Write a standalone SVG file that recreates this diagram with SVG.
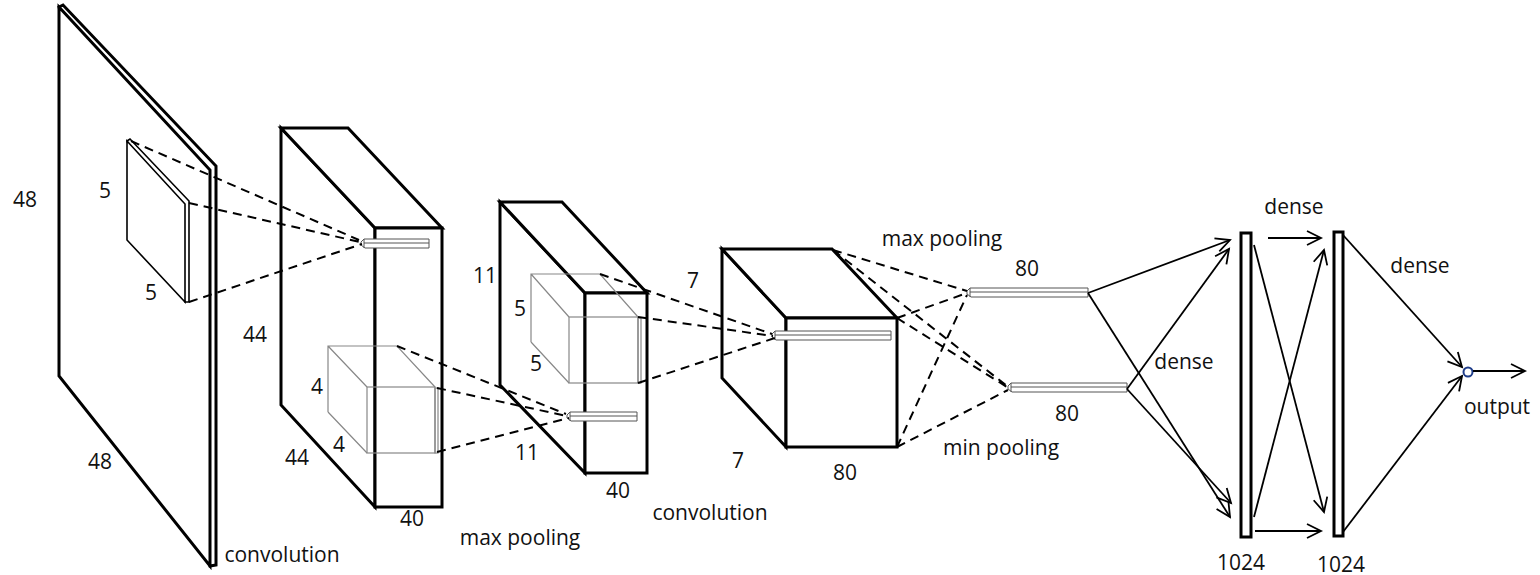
<svg xmlns="http://www.w3.org/2000/svg" width="1540" height="575" viewBox="0 0 1540 575">
<defs>
<style>
.thick{fill:#fff;stroke:#000;stroke-width:3;stroke-linejoin:miter}
.thin{fill:#fff;stroke:#000;stroke-width:1.6}
.cube{fill:none;stroke:#888;stroke-width:1.2}
.bar{fill:#fff;stroke:#555;stroke-width:1}
.dash{fill:none;stroke:#000;stroke-width:2;stroke-dasharray:9 6}
.arr{fill:none;stroke:#000;stroke-width:1.8;marker-end:url(#ah)}
.lbl{font-family:"Open Sans","Liberation Sans",Arial,sans-serif;font-size:21px;fill:#111;text-anchor:middle}
</style>
<marker id="ah" markerUnits="userSpaceOnUse" markerWidth="20" markerHeight="16" refX="15" refY="7" orient="auto" overflow="visible">
<path d="M1,0 L15,7 L1,14" fill="none" stroke="#000" stroke-width="1.8"/>
</marker>
</defs>
<rect width="1540" height="575" fill="#fff"/>

<g id="input-plane">
<path class="thick" d="M59,7 L63,5 L216,166 L216,565 L210,566 Z"/>
<path class="thick" d="M59,7 L210,170 L210,566 L59,376 Z"/>
<path class="thin" d="M127,141 L130,139 L189,201 L189,302 L185,302 Z"/>
<path class="thin" d="M127,141 L185,204 L185,302 L127,240 Z"/>
<text class="lbl" x="25" y="207">48</text>
<text class="lbl" x="100" y="469">48</text>
<text class="lbl" x="105" y="198">5</text>
<text class="lbl" x="151" y="300">5</text>
</g>

<g id="conv1">
<path class="thick" d="M281,128 L375,228 L375,507 L281,405 Z"/>
<path class="thick" d="M281,128 L348,128 L442,228 L375,228 Z"/>
<rect class="thick" x="375" y="228" width="67" height="279"/>
<path class="cube" d="M328,412 L328,346 L397,346 L435,387 M328,346 L367,387 M328,412 L367,453"/>
<rect class="cube" x="367" y="387" width="68" height="66"/>
<rect class="cube" x="435" y="388" width="3" height="65"/>
<path class="bar" d="M361,242 L364,239 L429,239 L429,248 L365,248 L361,245 Z"/>
<path class="bar" d="M364,239 L364,248 M364,243 L429,243"/>
<text class="lbl" x="255" y="342">44</text>
<text class="lbl" x="297" y="465">44</text>
<text class="lbl" x="412" y="526">40</text>
<text class="lbl" x="317" y="394">4</text>
<text class="lbl" x="339" y="452">4</text>
</g>

<g id="pool1">
<path class="thick" d="M500,202 L585,293 L585,473 L500,385 Z"/>
<path class="thick" d="M500,202 L562,202 L647,293 L585,293 Z"/>
<rect class="thick" x="585" y="293" width="62" height="180"/>
<path class="cube" d="M531,342 L531,274 L600,274 L638,317 M531,274 L569,317 M531,342 L569,383"/>
<rect class="cube" x="569" y="317" width="69" height="66"/>
<rect class="cube" x="638" y="318" width="3" height="65"/>
<path class="bar" d="M567,415 L570,412 L637,412 L637,421 L571,421 L567,418 Z"/>
<path class="bar" d="M570,412 L570,421 M570,416 L637,416"/>
<text class="lbl" x="485" y="283">11</text>
<text class="lbl" x="527" y="460">11</text>
<text class="lbl" x="618" y="498">40</text>
<text class="lbl" x="520" y="316">5</text>
<text class="lbl" x="536" y="371">5</text>
</g>

<g id="conv2">
<path class="thick" d="M722,249 L786,318 L786,447 L722,378 Z"/>
<path class="thick" d="M722,249 L832,249 L897,318 L786,318 Z"/>
<rect class="thick" x="786" y="318" width="111" height="129"/>
<path class="bar" d="M772,334 L775,331 L891,331 L891,340 L776,340 L772,337 Z"/>
<path class="bar" d="M775,331 L775,340 M775,335 L891,335"/>
<text class="lbl" x="693" y="288">7</text>
<text class="lbl" x="738" y="468">7</text>
<text class="lbl" x="845" y="480">80</text>
</g>

<g id="maxpool-vec">
<path class="bar" d="M967,291 L970,288 L1088,288 L1088,297 L971,297 L967,294 Z"/>
<path class="bar" d="M970,288 L970,297 M970,292 L1088,292"/>
<text class="lbl" x="1027" y="276">80</text>
<text class="lbl" x="942" y="246">max pooling</text>
</g>

<g id="minpool-vec">
<path class="bar" d="M1008,386 L1011,383 L1127,383 L1127,392 L1012,392 L1008,389 Z"/>
<path class="bar" d="M1011,383 L1011,392 M1011,387 L1127,387"/>
<text class="lbl" x="1067" y="421">80</text>
<text class="lbl" x="1001" y="455">min pooling</text>
</g>

<g id="dense1">
<rect class="thick" x="1241" y="233" width="10" height="304"/>
<text class="lbl" x="1241" y="570">1024</text>
</g>

<g id="dense2">
<rect class="thick" x="1334" y="232" width="9" height="304"/>
<text class="lbl" x="1341" y="572">1024</text>
</g>

<g id="output">
<circle cx="1468" cy="372" r="4.5" fill="#fff" stroke="#1f3d8a" stroke-width="2"/>
<text class="lbl" x="1497" y="414">output</text>
</g>

<g id="stage-labels">
<text class="lbl" x="282" y="562">convolution</text>
<text class="lbl" x="520" y="545">max pooling</text>
<text class="lbl" x="710" y="520">convolution</text>
<text class="lbl" x="1184" y="369">dense</text>
<text class="lbl" x="1294" y="214">dense</text>
<text class="lbl" x="1420" y="273">dense</text>
</g>

<g id="connectors">
<path class="dash" d="M131,141 L359,240 M189,203 L360,242 M189,302 L362,244"/>
<path class="dash" d="M397,346 L566,414 M437,388 L567,416 M437,452 L569,418"/>
<path class="dash" d="M600,274 L772,334 M638,317 L773,336 M638,383 L775,338"/>
<path class="dash" d="M833,250 L967,291 M833,250 L1007,386 M897,318 L967,293 M897,318 L1007,387 M897,447 L967,295 M897,447 L1008,390"/>
<line class="arr" x1="1088" y1="293" x2="1230" y2="240"/>
<line class="arr" x1="1088" y1="293" x2="1230" y2="517"/>
<line class="arr" x1="1127" y1="389" x2="1229" y2="249"/>
<line class="arr" x1="1127" y1="389" x2="1231" y2="503"/>
<line class="arr" x1="1268" y1="238" x2="1321" y2="238"/>
<line class="arr" x1="1255" y1="531" x2="1321" y2="531"/>
<line class="arr" x1="1254" y1="245" x2="1324" y2="512"/>
<line class="arr" x1="1254" y1="517" x2="1324" y2="250"/>
<line class="arr" x1="1343" y1="235" x2="1462" y2="367"/>
<line class="arr" x1="1343" y1="532" x2="1462" y2="376"/>
<line class="arr" x1="1473" y1="371" x2="1525" y2="371"/>
</g>
</svg>
